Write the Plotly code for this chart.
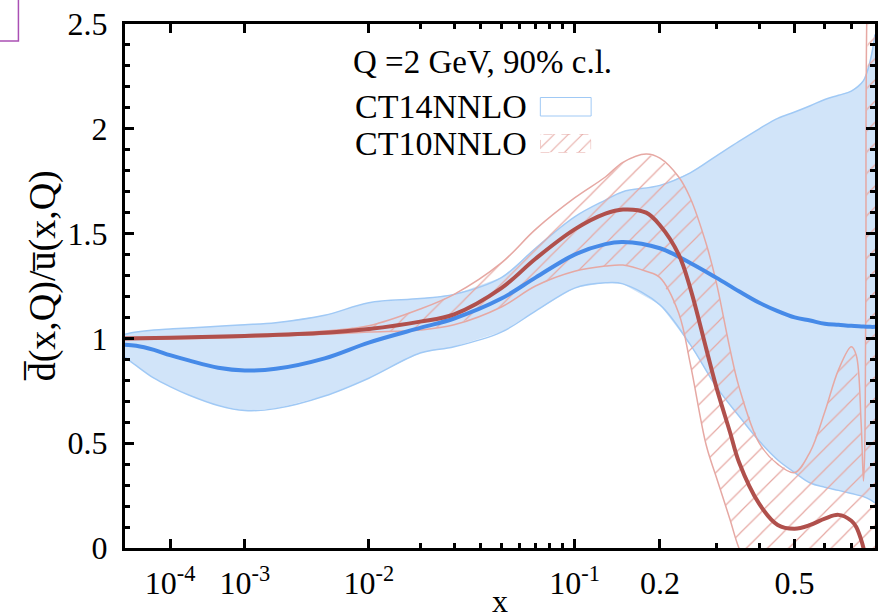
import numpy as np
import plotly.graph_objects as go

# ---------------- data ----------------
P = 0.22  # horizontal axis is scaled as x**P

ct14_x = [1e-5, 2e-5, 5e-5, 1e-4, 2e-4, 5e-4, 1e-3, 2e-3, 5e-3, 1e-2, 0.02, 0.03, 0.05, 0.07,
          0.1, 0.13, 0.15, 0.2, 0.25, 0.3, 0.35, 0.4, 0.45, 0.5, 0.55, 0.6, 0.65, 0.7, 0.75, 0.78, 0.8]
ct14_central = [0.97, 0.965, 0.945, 0.92, 0.895, 0.86, 0.847, 0.855, 0.905, 0.98, 1.05, 1.095, 1.19, 1.29,
                1.40, 1.45, 1.46, 1.43, 1.36, 1.29, 1.225, 1.17, 1.13, 1.10, 1.085, 1.07, 1.065, 1.06, 1.057, 1.055, 1.055]
ct14_upper = [1.02, 1.03, 1.04, 1.045, 1.05, 1.058, 1.065, 1.075, 1.11, 1.17, 1.19, 1.21, 1.29, 1.43,
              1.58, 1.66, 1.70, 1.73, 1.79, 1.87, 1.94, 2.00, 2.05, 2.08, 2.11, 2.14, 2.16, 2.18, 2.23, 2.33, 2.45]
ct14_lower = [0.91, 0.87, 0.81, 0.77, 0.73, 0.68, 0.656, 0.665, 0.725, 0.81, 0.93, 0.96, 1.03, 1.13,
              1.24, 1.265, 1.26, 1.16, 0.97, 0.77, 0.63, 0.51, 0.42, 0.36, 0.31, 0.29, 0.275, 0.26, 0.245, 0.23, 0.215]

ct10_x = [1e-5, 1e-4, 1e-3, 5e-3, 1e-2, 0.02, 0.03, 0.05, 0.07, 0.1, 0.13, 0.15, 0.18, 0.2, 0.23, 0.25,
          0.28, 0.3, 0.33, 0.35, 0.4, 0.45, 0.5, 0.55, 0.6, 0.65, 0.7, 0.72, 0.74, 0.75, 0.755, 0.76, 0.77, 0.8]
ct10_central = [1.0, 1.003, 1.012, 1.027, 1.045, 1.08, 1.115, 1.24, 1.38, 1.52, 1.595, 1.615, 1.60, 1.54, 1.40, 1.24,
                0.95, 0.77, 0.55, 0.41, 0.21, 0.11, 0.092, 0.11, 0.14, 0.158, 0.13, 0.10, 0.04, 0.0, -0.03, -0.06, -0.15, -0.4]
ct10_upper = [1.005, 1.007, 1.015, 1.035, 1.06, 1.14, 1.21, 1.36, 1.52, 1.67, 1.77, 1.84, 1.88, 1.86, 1.77, 1.67,
              1.45, 1.27, 0.945, 0.77, 0.50, 0.40, 0.36, 0.46, 0.65, 0.85, 0.96, 0.92, 0.6, 0.32, 0.45, 1.2, 2.8, 3.2]
ct10_lower = [0.995, 0.997, 1.005, 1.02, 1.03, 1.04, 1.065, 1.15, 1.25, 1.32, 1.345, 1.35, 1.32, 1.29, 1.12, 0.88,
              0.49, 0.34, 0.134, 0.0, -0.2, -0.3, -0.35, -0.4, -0.4, -0.4, -0.4, -0.4, -0.4, -0.4, -0.4, -0.4, -0.4, -0.4]

major_x = [1e-4, 1e-3, 1e-2, 0.1, 0.2, 0.5]
major_labels = ["10<sup>-4</sup>", "10<sup>-3</sup>", "10<sup>-2</sup>", "10<sup>-1</sup>", "0.2", "0.5"]
minor_x = [0.02, 0.03, 0.04, 0.05, 0.06, 0.07, 0.08, 0.09, 0.3, 0.4, 0.6, 0.7]
y_ticks = [0, 0.5, 1, 1.5, 2, 2.5]
y_labels = ["0", "0.5", "1", "1.5", "2", "2.5"]
x_range = [1e-5, 0.8]

title_text = "Q =2 GeV, 90% c.l."
name14 = "CT14NNLO"
name10 = "CT10NNLO"


def u(v):
    return np.power(np.asarray(v, dtype=float), P)


BLUE_FILL = "rgb(209,228,249)"
BLUE_EDGE = "rgb(160,201,245)"
BLUE_LINE = "rgb(70,138,232)"
RED_LINE = "rgb(176,80,76)"
RED_EDGE = "rgb(230,168,163)"
FONT = "Liberation Serif"

fig = go.Figure()

u14 = u(ct14_x)
u10 = u(ct10_x)

# CT14 band
fig.add_trace(go.Scatter(x=np.concatenate([u14, u14[::-1]]),
                         y=np.concatenate([ct14_upper, ct14_lower[::-1]]),
                         fill="toself", fillcolor=BLUE_FILL, line=dict(width=0),
                         mode="lines", hoverinfo="skip", showlegend=False))
fig.add_trace(go.Scatter(x=u14, y=ct14_upper, mode="lines", line=dict(color=BLUE_EDGE, width=1.5, shape="spline"),
                         showlegend=False))
fig.add_trace(go.Scatter(x=u14, y=ct14_lower, mode="lines", line=dict(color=BLUE_EDGE, width=1.5, shape="spline"),
                         showlegend=False))

# CT10 hatched band
fig.add_trace(go.Scatter(x=np.concatenate([u10, u10[::-1]]),
                         y=np.concatenate([ct10_upper, ct10_lower[::-1]]),
                         fill="toself", fillcolor="rgba(0,0,0,0)", line=dict(width=0),
                         fillpattern=dict(shape="/", size=15, solidity=0.08, fgcolor=RED_EDGE,
                                          bgcolor="rgba(0,0,0,0)", fillmode="replace"),
                         mode="lines", hoverinfo="skip", showlegend=False))
fig.add_trace(go.Scatter(x=u10, y=ct10_upper, mode="lines", line=dict(color=RED_EDGE, width=1.5, shape="spline"),
                         showlegend=False))
fig.add_trace(go.Scatter(x=u10, y=ct10_lower, mode="lines", line=dict(color=RED_EDGE, width=1.5, shape="spline"),
                         showlegend=False))

# central lines
fig.add_trace(go.Scatter(x=u14, y=ct14_central, mode="lines", line=dict(color=BLUE_LINE, width=4, shape="spline"),
                         showlegend=False))
fig.add_trace(go.Scatter(x=u10, y=ct10_central, mode="lines", line=dict(color=RED_LINE, width=4, shape="spline"),
                         showlegend=False))

# legend swatch for CT10 (hatched) drawn on a small overlay axis
sw_x0, sw_x1 = (542 - 125) / 753, (593 - 125) / 753
fig.add_trace(go.Scatter(x=[0, 1, 1, 0, 0], y=[0, 0, 1, 1, 0], xaxis="x2", yaxis="y2",
                         fill="toself", fillcolor="rgba(0,0,0,0)",
                         fillpattern=dict(shape="/", size=10, solidity=0.1, fgcolor=RED_EDGE,
                                          bgcolor="rgba(0,0,0,0)", fillmode="replace"),
                         line=dict(color=RED_EDGE, width=1, dash="dash"), mode="lines",
                         hoverinfo="skip", showlegend=False))

axis_common = dict(showline=True, linewidth=3, linecolor="black", mirror="allticks",
                   ticks="inside", ticklen=9, tickwidth=2.5, tickcolor="black",
                   showgrid=False, zeroline=False,
                   tickfont=dict(family=FONT, size=32, color="black"))

fig.update_layout(
    width=883, height=615,
    margin=dict(l=125, r=5, t=24, b=67),
    paper_bgcolor="white", plot_bgcolor="white",
    showlegend=False,
    font=dict(family=FONT),
    xaxis=dict(range=list(u(x_range)), tickmode="array", tickvals=list(u(major_x)), ticktext=major_labels,
               minor=dict(tickmode="array", tickvals=list(u(minor_x)), ticks="inside", ticklen=5,
                          tickwidth=2.5, tickcolor="black"),
               ticklabelstandoff=5, **axis_common),
    yaxis=dict(range=[0, 2.5], tickmode="array", tickvals=y_ticks, ticktext=y_labels,
               minor=dict(dtick=0.1, tick0=0, ticks="inside", ticklen=5, tickwidth=2.5, tickcolor="black"),
               ticklabelstandoff=8, **axis_common),
    xaxis2=dict(domain=[sw_x0, sw_x1], range=[0, 1], visible=False, anchor="y2", fixedrange=True),
    yaxis2=dict(domain=[(548 - 152.5) / 524, (548 - 134) / 524], range=[0, 1], visible=False, anchor="x2",
                fixedrange=True),
)

fig.add_shape(type="rect", xref="paper", yref="paper",
              x0=sw_x0, x1=sw_x1, y0=(548 - 116) / 524, y1=(548 - 97.5) / 524,
              line=dict(color=BLUE_EDGE, width=1), fillcolor="white", layer="above")
# cropped frame remnant at top-left
fig.add_shape(type="rect", xref="paper", yref="paper",
              x0=-0.25, x1=(18 - 125) / 753, y0=(548 - 41) / 524, y1=1.2,
              line=dict(color="rgb(170,80,180)", width=1.5))

ann_font = dict(family=FONT, size=34, color="black")
fig.add_annotation(text=title_text, xref="paper", yref="paper", x=(352 - 125) / 753, y=(548 - 62) / 524,
                   xanchor="left", yanchor="middle", showarrow=False, font=dict(family=FONT, size=33, color="black"))
fig.add_annotation(text=name14, xref="paper", yref="paper", x=(354 - 125) / 753, y=(548 - 107) / 524,
                   xanchor="left", yanchor="middle", showarrow=False, font=ann_font)
fig.add_annotation(text=name10, xref="paper", yref="paper", x=(354 - 125) / 753, y=(548 - 143) / 524,
                   xanchor="left", yanchor="middle", showarrow=False, font=ann_font)
fig.add_annotation(text="x", xref="paper", yref="paper", x=0.5, y=(548 - 601) / 524,
                   xanchor="center", yanchor="middle", showarrow=False, font=dict(family=FONT, size=32, color="black"))
fig.add_annotation(text="d\u0305(x,Q)/u\u0305(x,Q)", xref="paper", yref="paper", x=(42 - 125) / 753,
                   y=(548 - 276) / 524, xanchor="center", yanchor="middle", textangle=-90, showarrow=False,
                   font=dict(family=FONT, size=38, color="black"))

fig.write_html("out.html")
